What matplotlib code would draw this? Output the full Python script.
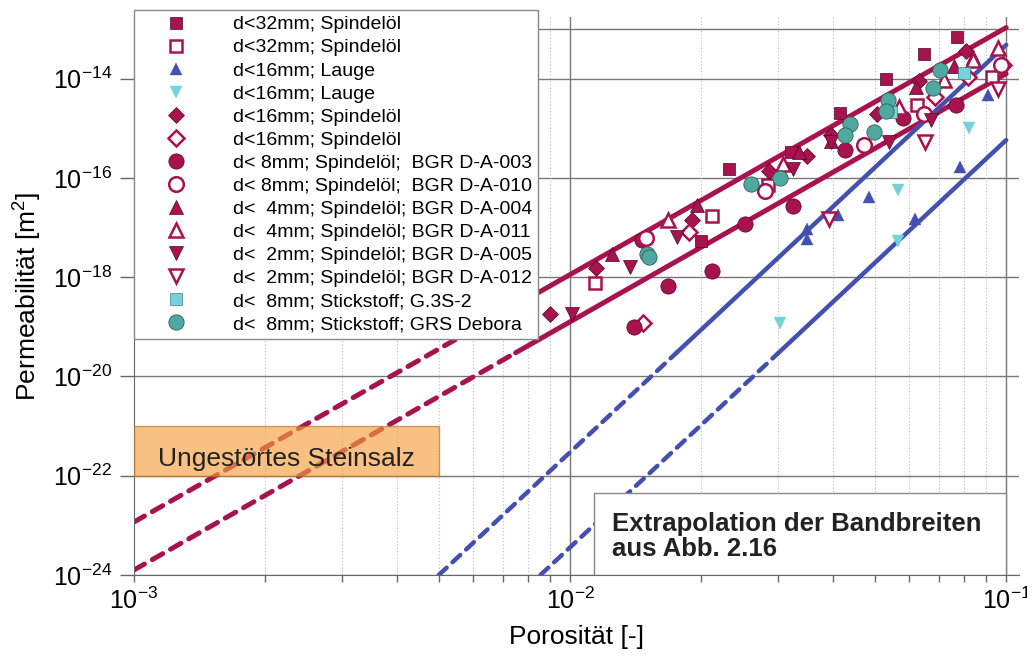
import numpy as np
import matplotlib
matplotlib.use("Agg")
import matplotlib.pyplot as plt
from matplotlib.patches import Rectangle
from matplotlib.ticker import FixedLocator, NullLocator, FuncFormatter

plt.rcParams['font.family'] = 'Liberation Sans'
plt.rcParams['mathtext.fontset'] = 'custom'
plt.rcParams['mathtext.rm'] = 'Liberation Sans'
plt.rcParams['mathtext.it'] = 'Liberation Sans:italic'
plt.rcParams['mathtext.bf'] = 'Liberation Sans:bold'

# Messwerte: Porosität [-] und Permeabilität [m²]
sq32_phi = [0.0200, 0.0231, 0.0321, 0.0416, 0.0530, 0.0648, 0.0771]
sq32_k = [5.3e-18, 1.5e-16, 3.3e-16, 2.0e-15, 9.7e-15, 3.2e-14, 6.8e-14]

osq32_phi = [0.0114, 0.0211, 0.0285, 0.0624, 0.0927]
osq32_k = [7.5e-19, 1.75e-17, 7.1e-17, 3.0e-15, 1.1e-14]

lauge_up_phi = [0.0349, 0.0349, 0.0411, 0.0484, 0.0618, 0.0783, 0.0908]
lauge_up_k = [5.8e-18, 9.2e-18, 1.8e-17, 4.2e-17, 1.5e-17, 1.7e-16, 4.8e-15]

lauge_dn_phi = [0.0303, 0.0564, 0.0564, 0.0821]
lauge_dn_k = [1.2e-19, 5.3e-18, 5.6e-17, 1.0e-15]

dia16_phi = [0.0090, 0.01145, 0.0190, 0.0286, 0.0349, 0.0396, 0.0505, 0.0631, 0.0808]
dia16_k = [1.85e-19, 1.5e-18, 1.4e-17, 1.35e-16, 2.8e-16, 7.5e-16, 1.9e-15, 8.8e-15, 3.55e-14]

odia16_phi = [0.0147, 0.0187, 0.0686, 0.0817, 0.0983]
odia16_k = [1.2e-19, 8.3e-18, 4.2e-15, 1.06e-14, 1.85e-14]

c003_phi = [0.0140, 0.01675, 0.0211, 0.0252, 0.0146, 0.0324, 0.0427, 0.0580, 0.0767]
c003_k = [9.7e-20, 6.5e-19, 1.36e-18, 1.2e-17, 5.75e-18, 2.66e-17, 3.6e-16, 1.58e-15, 3.0e-15]

c010_phi = [0.0149, 0.0280, 0.0472, 0.0648, 0.0972]
c010_k = [6.3e-18, 5.35e-17, 4.7e-16, 1.9e-15, 1.85e-14]

t004_phi = [0.0125, 0.0195, 0.0335, 0.0396, 0.0621, 0.0760, 0.0839]
t004_k = [3.0e-18, 2.9e-17, 3.4e-16, 5.5e-16, 6.7e-15, 1.77e-14, 2.8e-14]

t011_phi = [0.0168, 0.0308, 0.0567, 0.0720, 0.0839, 0.0957]
t011_k = [1.4e-17, 1.87e-16, 2.64e-15, 9.2e-15, 2.35e-14, 4.1e-14]

t005_phi = [0.0101, 0.0137, 0.0176, 0.0324, 0.0396, 0.0538, 0.0672]
t005_k = [1.85e-19, 1.57e-18, 6.6e-18, 1.48e-16, 5.2e-16, 5.2e-16, 1.44e-15]

t012_phi = [0.0392, 0.0650, 0.0957]
t012_k = [1.46e-17, 5.2e-16, 6.1e-15]

g3s_phi = [0.0800, 0.0544]
g3s_k = [1.28e-14, 2.1e-15]

grs_phi = [0.0150, 0.0152, 0.0260, 0.0303, 0.0438, 0.0427, 0.0497, 0.0535, 0.0530, 0.0679, 0.0705]
grs_k = [2.87e-18, 2.5e-18, 7.7e-17, 9.8e-17, 1.2e-15, 7.2e-16, 8.3e-16, 3.65e-15, 2.2e-15, 6.4e-15, 1.47e-14]

# Bandbreiten: Start (gestrichelt) -> Übergang -> Ende (durchgezogen)
red_up_phi = [1e-3, 0.0075, 0.1]
red_up_k = [1.17e-23, 2.7e-19, 1.07e-13]
red_lo_phi = [1e-3, 0.0075, 0.1]
red_lo_k = [1.26e-24, 3.0e-20, 1.26e-14]
blue_up_phi = [0.005, 0.0175, 0.1]
blue_up_k = [1e-24, 2.95e-20, 4.8e-14]
blue_lo_phi = [0.00855, 0.030, 0.1]
blue_lo_k = [1e-24, 2.95e-20, 5.8e-16]

crimson = '#A8124F'
blue = '#4450B0'

fig = plt.figure(figsize=(10.27, 6.59), dpi=100)
ax = fig.add_axes([0.1305, 0.1275, 0.8617, 0.8467])
ax.set_xscale('log')
ax.set_yscale('log')
ax.set_xlim(1e-3, 0.107)
ax.set_ylim(1e-24, 1.75e-13)

# Gitter
for yy in [1e-24, 1e-22, 1e-20, 1e-18, 1e-16, 1e-14, 1e-13]:
    ax.axhline(yy, color='#777777', lw=1.0, zorder=0)
for xx in [1e-2, 1e-1]:
    ax.axvline(xx, color='#777777', lw=1.0, zorder=0)
for dec in [1e-3, 1e-2]:
    for m in range(2, 10):
        ax.axvline(dec * m, color='#bbbbbb', lw=0.8, ls=(0, (1, 2)), zorder=0)

# Bandbreiten
for xs, ys, col, lw in [(red_up_phi, red_up_k, crimson, 3.6),
                        (red_lo_phi, red_lo_k, crimson, 3.6),
                        (blue_up_phi, blue_up_k, blue, 3.2),
                        (blue_lo_phi, blue_lo_k, blue, 3.2)]:
    ax.plot(xs[:2], ys[:2], color=col, lw=lw, dashes=(2.4, 1.8),
            dash_capstyle='round', zorder=2)
    ax.plot(xs[1:], ys[1:], color=col, lw=lw, solid_capstyle='round', zorder=2)

edge = '#4a0a25'
series = [
    (sq32_phi, sq32_k, 's', crimson, edge, 8, 0.5, 'd<32mm; Spindelöl'),
    (osq32_phi, osq32_k, 's', 'white', crimson, 8.5, 1.8, 'd<32mm; Spindelöl'),
    (lauge_up_phi, lauge_up_k, '^', blue, blue, 9, 0.3, 'd<16mm; Lauge'),
    (lauge_dn_phi, lauge_dn_k, 'v', '#74D2DB', '#74D2DB', 9, 0.3, 'd<16mm; Lauge'),
    (dia16_phi, dia16_k, 'D', crimson, edge, 8, 0.5, 'd<16mm; Spindelöl'),
    (odia16_phi, odia16_k, 'D', 'white', crimson, 8, 1.8, 'd<16mm; Spindelöl'),
    (c003_phi, c003_k, 'o', crimson, edge, 11, 0.5, 'd< 8mm; Spindelöl;  BGR D-A-003'),
    (c010_phi, c010_k, 'o', 'white', crimson, 10.5, 1.8, 'd< 8mm; Spindelöl;  BGR D-A-010'),
    (t004_phi, t004_k, '^', crimson, edge, 10, 0.5, 'd<  4mm; Spindelöl; BGR D-A-004'),
    (t011_phi, t011_k, '^', 'white', crimson, 10, 1.8, 'd<  4mm; Spindelöl; BGR D-A-011'),
    (t005_phi, t005_k, 'v', crimson, edge, 10, 0.5, 'd<  2mm; Spindelöl; BGR D-A-005'),
    (t012_phi, t012_k, 'v', 'white', crimson, 10, 1.8, 'd<  2mm; Spindelöl; BGR D-A-012'),
    (g3s_phi, g3s_k, 's', '#74D2DB', '#3b7f86', 8, 0.5, 'd<  8mm; Stickstoff; G.3S-2'),
    (grs_phi, grs_k, 'o', '#4FA9A0', '#2f5f5a', 11, 0.6, 'd<  8mm; Stickstoff; GRS Debora'),
]
for xs, ys, mk, fc, ec, ms, mew, lab in series:
    ax.plot(xs, ys, ls='none', marker=mk, mfc=fc, mec=ec, ms=ms, mew=mew,
            label=lab, zorder=4)

# Ungestörtes Steinsalz
ax.add_patch(Rectangle((1e-3, 1e-22), 4e-3, 9e-22, facecolor='#F5A040',
                       edgecolor='#C07020', alpha=0.65, lw=1, zorder=3))
ax.text(0.00224, 2.2e-22, 'Ungestörtes Steinsalz', fontsize=19,
        ha='center', va='center', color='#222222', zorder=5)

# Hinweis-Kasten
ax.add_patch(Rectangle((0.01132, 1e-24), 0.1 - 0.01132, 4.5e-23 - 1e-24,
                       facecolor='white', edgecolor='#888888', lw=1, zorder=6))
ax.text(0.0125, 1.9e-23, 'Extrapolation der Bandbreiten\naus Abb. 2.16',
        fontsize=18.5, fontweight='bold', ha='left', va='top',
        linespacing=1.1, color='#222222', zorder=7)

# Achsen
for s in ['top', 'right']:
    ax.spines[s].set_visible(False)
for s in ['left', 'bottom']:
    ax.spines[s].set_color('#666666')
ax.yaxis.set_major_locator(FixedLocator([1e-24, 1e-22, 1e-20, 1e-18, 1e-16, 1e-14]))
ax.yaxis.set_minor_locator(NullLocator())
ax.xaxis.set_major_locator(FixedLocator([1e-3, 1e-2, 1e-1]))
ax.xaxis.set_minor_locator(FixedLocator([d * m for d in [1e-3, 1e-2] for m in range(2, 10)]))
fmt = FuncFormatter(lambda v, p: '$10^{%d}$' % int(round(np.log10(v))))
ax.xaxis.set_major_formatter(fmt)
ax.yaxis.set_major_formatter(fmt)
ax.xaxis.set_minor_formatter(FuncFormatter(lambda v, p: ''))
ax.tick_params(axis='y', which='major', length=10, width=1, color='#666666',
               labelsize=18, pad=6)
ax.tick_params(axis='x', which='both', length=5, width=1, color='#666666',
               labelsize=18, pad=4)

ax.set_xlabel('Porosität [-]', fontsize=19, labelpad=8)
ax.set_ylabel('Permeabilität [m$^2$]', fontsize=19, labelpad=6)

leg = ax.legend(loc='upper left', bbox_to_anchor=(134 / 1027, 1 - 10 / 659),
                bbox_transform=fig.transFigure, borderaxespad=0, fontsize=14,
                numpoints=1, handlelength=3.7, handletextpad=1.1, borderpad=0.3,
                labelspacing=0.28, fancybox=False, framealpha=1,
                edgecolor='#888888')
leg.get_frame().set_linewidth(1.0)
leg.set_zorder(10)

fig.savefig('out.png', dpi=100)
